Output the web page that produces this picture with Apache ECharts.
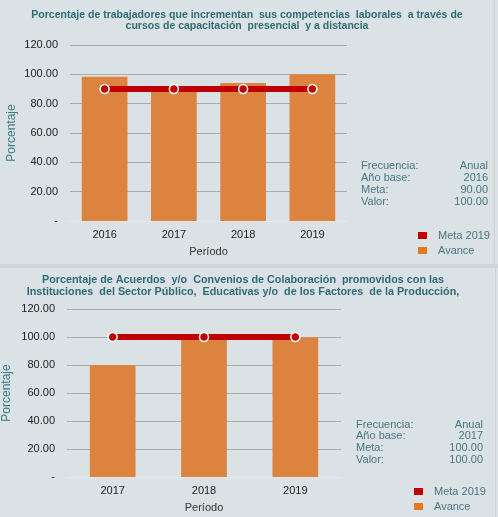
<!DOCTYPE html>
<html>
<head>
<meta charset="utf-8">
<script src="https://cdn.jsdelivr.net/npm/echarts@6/dist/echarts.min.js"></script>
<style>
  html, body { margin: 0; padding: 0; background: #dbe2e5; }
  #chart { width: 498px; height: 517px; }
</style>
</head>
<body>
<div id="chart"></div>
<script>
var red = '#c00000';
var orange = '#dc843f';
var teal = '#2e6b74';
var font = '"Liberation Sans", Arial, sans-serif';

// chart 1
var title1 = 'Porcentaje de trabajadores que incrementan  sus competencias  laborales  a través de\ncursos de capacitación  presencial  y a distancia';
var years1 = ['2016', '2017', '2018', '2019'];
var avance1 = [98.4, 88.8, 94.1, 100];
var meta1 = [90, 90, 90, 90];
var infoLabels1 = ['Frecuencia:', 'Año base:', 'Meta:', 'Valor:'];
var infoValues1 = ['Anual', '2016', '90.00', '100.00'];

// chart 2
var title2 = 'Porcentaje de Acuerdos  y/o  Convenios de Colaboración  promovidos con las\nInstituciones  del Sector Público,  Educativas y/o  de los Factores  de la Producción,';
var years2 = ['2017', '2018', '2019'];
var avance2 = [80, 98.5, 99.6];
var meta2 = [100, 100, 100];
var infoLabels2 = ['Frecuencia:', 'Año base:', 'Meta:', 'Valor:'];
var infoValues2 = ['Anual', '2017', '100.00', '100.00'];

var yTicks = function(v) { return v === 0 ? '-' : v.toFixed(2); };

function yAxis(idx, gap) {
	return {
		gridIndex: idx,
		type: 'value',
		min: 0,
		max: 120,
		interval: 20,
		name: 'Porcentaje',
		nameLocation: 'middle',
		nameRotate: 90,
		nameGap: gap,
		nameMoveOverlap: false,
		nameTextStyle: { color: '#3b7a86', fontSize: 12, fontFamily: font },
		axisLine: { show: false },
		axisTick: { show: false },
		axisLabel: { color: '#222', fontSize: 11, fontFamily: font, margin: 12, formatter: yTicks },
		splitLine: { lineStyle: { color: '#a9abad', width: 1 } }
	};
}

function xAxis(idx, data) {
	return {
		gridIndex: idx,
		type: 'category',
		data: data,
		name: 'Período',
		nameLocation: 'middle',
		nameGap: 25,
		nameTextStyle: { color: '#333', fontSize: 11, fontFamily: font },
		axisLine: { lineStyle: { color: '#e4e8ea', width: 1 } },
		axisTick: { show: false },
		axisLabel: { color: '#222', fontSize: 11, fontFamily: font, margin: 8 }
	};
}

function infoGraphics(labels, values, x, xr, y0, step) {
	var out = [];
	labels.forEach(function(l, i) {
		out.push({ type: 'text', left: x, top: y0 + i * step,
			style: { text: l, fill: '#4a7580', font: '11px ' + font } });
		out.push({ type: 'text', right: 498 - xr, top: y0 + i * step,
			style: { text: values[i], fill: '#4a7580', font: '11px ' + font, align: 'right' } });
	});
	return out;
}

function legend(top, left) {
	return {
		orient: 'vertical',
		left: left,
		top: top,
		height: 40,
		padding: 0,
		itemWidth: 9,
		itemHeight: 7,
		itemGap: 4,
		icon: 'rect',
		textStyle: { color: '#4a7580', fontSize: 11, fontFamily: font, padding: [0, 0, 0, 6] },
		data: [
			{ name: 'Meta 2019', itemStyle: { color: red, borderWidth: 0 } },
			{ name: 'Avance', itemStyle: { color: '#e6781f', borderWidth: 0 } }
		]
	};
}

var chart = echarts.init(document.getElementById('chart'));
chart.setOption({
	backgroundColor: '#dbe2e5',
	animation: false,
	title: [
		{ text: title1, left: 247, top: 10, textAlign: 'center', padding: 0,
			textStyle: { color: teal, fontSize: 10.5, fontWeight: 'bold', fontFamily: font, lineHeight: 11 } },
		{ text: title2, left: 243, top: 274, textAlign: 'center', padding: 0,
			textStyle: { color: teal, fontSize: 10.8, fontWeight: 'bold', fontFamily: font, lineHeight: 12 } }
	],
	graphic: [
		{ type: 'rect', shape: { x: 0, y: 264, width: 498, height: 4 }, style: { fill: '#d2d5d7' } },
		{ type: 'rect', shape: { x: 494, y: 0, width: 1, height: 264 }, style: { fill: '#cfd3d5' } },
		{ type: 'rect', shape: { x: 495, y: 268, width: 1, height: 249 }, style: { fill: '#cfd3d5' } }
	].concat(infoGraphics(infoLabels1, infoValues1, 361, 488, 160, 12.3))
	 .concat(infoGraphics(infoLabels2, infoValues2, 356, 483, 419, 11.8)),
	legend: [legend(230, 418), legend(486, 414)],
	grid: [
		{ left: 70, right: 151, top: 45, height: 176, outerBoundsMode: 'none', containLabel: false },
		{ left: 67, right: 157, top: 309, height: 168, outerBoundsMode: 'none', containLabel: false }
	],
	xAxis: [xAxis(0, years1), xAxis(1, years2)],
	yAxis: [yAxis(0, 52), yAxis(1, 54)],
	series: [
		{ name: 'Avance', type: 'bar', xAxisIndex: 0, yAxisIndex: 0, data: avance1,
			barWidth: '66%', itemStyle: { color: orange } },
		{ name: 'Meta 2019', type: 'line', xAxisIndex: 0, yAxisIndex: 0, data: meta1,
			symbol: 'circle', symbolSize: 9,
			lineStyle: { color: red, width: 6 },
			itemStyle: { color: red, borderColor: '#fff', borderWidth: 1.5 } },
		{ name: 'Avance', type: 'bar', xAxisIndex: 1, yAxisIndex: 1, data: avance2,
			barWidth: '50%', itemStyle: { color: orange } },
		{ name: 'Meta 2019', type: 'line', xAxisIndex: 1, yAxisIndex: 1, data: meta2,
			symbol: 'circle', symbolSize: 9,
			lineStyle: { color: red, width: 6 },
			itemStyle: { color: red, borderColor: '#fff', borderWidth: 1.5 } }
	]
});
</script>
</body>
</html>
